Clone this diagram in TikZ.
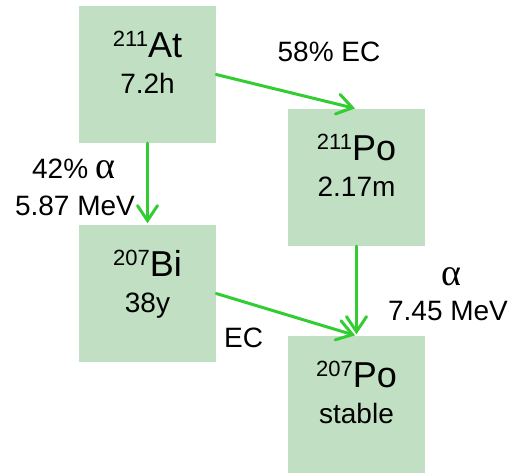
\documentclass[tikz,border=0pt]{standalone}
\usepackage{fontspec}
\setmainfont{Liberation Sans}
\newfontfamily\greekfont{Liberation Serif}
\usetikzlibrary{arrows.meta,calc}
\definecolor{boxfill}{RGB}{193,224,195}
\definecolor{arrgreen}{RGB}{51,204,51}
\tikzset{
  iso/.style={fill=boxfill, draw=none, minimum width=137pt, minimum height=137pt, inner sep=0pt},
  decay/.style={draw=arrgreen, line width=3pt, line cap=round,
    -{Straight Barb[length=15pt,width=20pt,line width=3pt,line cap=round]}, shorten >=1.5pt},
  nuc/.style={anchor=base, font=\fontsize{36}{40}\selectfont, inner sep=0pt},
  hl/.style={anchor=base, font=\fontsize{28}{32}\selectfont, inner sep=0pt},
  lab/.style={anchor=base, font=\fontsize{28}{32}\selectfont, inner sep=0pt},
}
\newcommand{\massno}[1]{\raisebox{0.6ex}{\fontsize{22}{24}\selectfont #1}}
\newcommand{\alp}{{\greekfont\fontsize{38}{40}\selectfont α}}
\begin{document}
\begin{tikzpicture}[x=1pt,y=-1pt]
\useasboundingbox (0,0) rectangle (514,472);
\node[iso] (at) at (147.5,74.5) {};
\node[iso] (po211) at (356.5,177.5) {};
\node[iso] (bi) at (147.5,293.5) {};
\node[iso] (po207) at (356.5,404.5) {};
% texts
\node[nuc] (t1) at ([yshift=-52pt]at.north) {\massno{211}At};
\node[hl] (h1) at ([yshift=-88pt]at.north) {7.2h};
\node[nuc] (t2) at ([yshift=-52pt]po211.north) {\massno{211}Po};
\node[hl] (h2) at ([yshift=-88pt]po211.north) {2.17m};
\node[nuc] (t3) at ([yshift=-52pt]bi.north) {\massno{207}Bi};
\node[hl] (h3) at ([yshift=-88pt]bi.north) {38y};
\node[nuc] (t4) at ([yshift=-52pt]po207.north) {\massno{207}Po};
\node[hl] (h4) at ([yshift=-88pt]po207.north) {stable};
% arrows
\draw[decay] (at.east) -- (po211.north);
\draw[decay] (at.south) -- (bi.north);
\draw[decay] (po211.south) -- (po207.north);
\draw[decay] (bi.east) -- (po207.north);
% labels
\node[lab] (l1) at (329,61) {58\% EC};
\node[lab] (l2) at (74,178) {42\% \alp};
\node[lab] (l3) at (75,215) {5.87 MeV};
\node[lab, anchor=base west] (l4) at (224,347) {EC};
\node[lab] (l5) at (451,285) {\alp};
\node[lab] (l6) at (448,320) {7.45 MeV};
\end{tikzpicture}
\end{document}
